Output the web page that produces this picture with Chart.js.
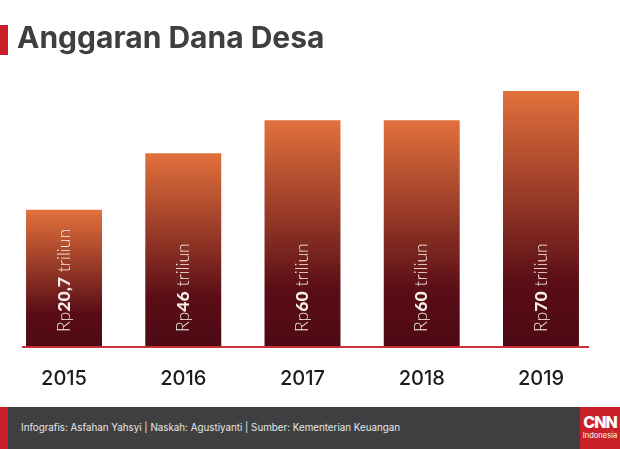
<!DOCTYPE html>
<html>
<head>
<meta charset="utf-8">
<style>
    html, body { margin: 0; padding: 0; background: #fff; }
    #page { position: relative; width: 620px; height: 449px; overflow: hidden; font-family: Inter, sans-serif; }
    #chart { position: absolute; left: 0; top: 0; }
    #accent { position: absolute; left: 0; top: 25px; width: 8px; height: 30px; background: #c9202a; }
    #title { position: absolute; left: 17px; top: 18px; font-size: 30px; line-height: 38px; font-weight: 700; color: #3f3f42; white-space: nowrap; }
    #footer { position: absolute; left: 0; top: 407px; width: 620px; height: 42px; background: #3f3f42; }
    #footer-accent { position: absolute; left: 0; top: 0; width: 8px; height: 42px; background: #c9202a; }
    #credit { position: absolute; left: 21px; top: 14px; font-size: 9.8px; line-height: 14px; color: #e8e8e8; white-space: nowrap; }
    #logo { position: absolute; left: 580px; top: 0; width: 40px; height: 42px; background: #c9202a; color: #fff; text-align: center; }
    #logo b { display: block; margin-top: 6px; font-size: 16px; line-height: 18px; letter-spacing: -1px; font-weight: 800; }
    #logo span { display: block; font-size: 7.5px; line-height: 10px; }
</style>
</head>
<body>
<div id="page">
    <canvas id="chart" width="620" height="449"></canvas>
    <div id="accent"></div>
    <div id="title">Anggaran Dana Desa</div>
    <div id="footer">
        <div id="footer-accent"></div>
        <div id="credit">Infografis: Asfahan Yahsyi | Naskah: Agustiyanti | Sumber: Kementerian Keuangan</div>
        <div id="logo"><b>CNN</b><span>Indonesia</span></div>
    </div>
</div>
<script src="https://cdn.jsdelivr.net/npm/chart.js@4"></script>
<script>
const years = ["2015", "2016", "2017", "2018", "2019"];
// printed amounts, as labelled on the bars
const printedValues = ["20,7", "46", "60", "60", "70"];
// heights as drawn in the picture (not proportional to the printed amounts), in units where the tallest bar = 70
const drawnHeights = [37.5, 53, 62, 62, 70];

const barGradient = (context) => {
    const { chart, dataIndex } = context;
    if (!chart.chartArea) return "#8a3320";
    const yScale = chart.scales.y;
    const top = yScale.getPixelForValue(drawnHeights[dataIndex]);
    const bottom = yScale.getPixelForValue(0);
    const g = chart.ctx.createLinearGradient(0, top, 0, bottom);
    g.addColorStop(0, "#e2713c");
    g.addColorStop(0.75, "#5a0d16");
    g.addColorStop(1, "#4d0a14");
    return g;
};

// red baseline and rotated value labels
const decorations = {
    id: "decorations",
    afterDatasetsDraw(chart) {
        const { ctx, scales } = chart;
        const baseY = scales.y.getPixelForValue(0);

        ctx.save();
        ctx.strokeStyle = "#c9303a";
        ctx.lineWidth = 2;
        ctx.beginPath();
        ctx.moveTo(22, baseY);
        ctx.lineTo(589, baseY);
        ctx.stroke();
        ctx.restore();

        printedValues.forEach((value, i) => {
            const x = scales.x.getPixelForValue(i);
            ctx.save();
            ctx.translate(x, baseY - 15);
            ctx.rotate(-Math.PI / 2);
            ctx.textBaseline = "middle";
            ctx.textAlign = "left";
            ctx.fillStyle = "#f7eeea";
            let pos = 0;
            [["Rp", "300"], [value, "900"], [" triliun", "300"]].forEach(([text, weight]) => {
                ctx.font = weight + " 17.6px Lato, sans-serif";
                ctx.fillText(text, pos, 0);
                pos += ctx.measureText(text).width;
            });
            ctx.restore();
        });
    }
};

new Chart(document.getElementById("chart"), {
    type: "bar",
    data: {
        labels: years,
        datasets: [{
            data: drawnHeights,
            backgroundColor: barGradient,
            borderWidth: 0,
            categoryPercentage: 1,
            barPercentage: 0.637
        }]
    },
    options: {
        responsive: false,
        animation: false,
        layout: { padding: { left: 4.4, right: 19.4, top: 91, bottom: 0 } },
        plugins: { legend: { display: false }, tooltip: { enabled: false } },
        scales: {
            x: {
                grid: { display: false },
                border: { display: false },
                afterFit(scale) { scale.height = 102; },
                ticks: {
                    color: "#1c1c1c",
                    padding: 12,
                    maxRotation: 0,
                    font: { family: "Inter, sans-serif", size: 20, weight: "500" }
                }
            },
            y: { display: false, min: 0, max: 70 }
        }
    },
    plugins: [decorations]
});
</script>
</body>
</html>
